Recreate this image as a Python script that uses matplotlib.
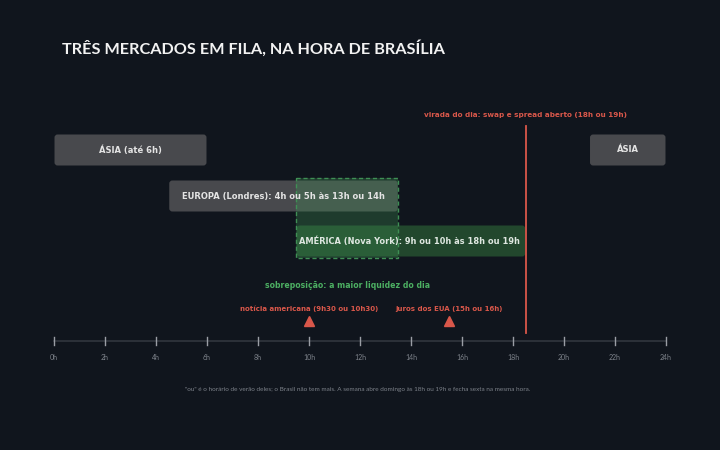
import matplotlib
matplotlib.use("Agg")
import matplotlib.pyplot as plt
from matplotlib.patches import FancyBboxPatch, Rectangle

# dados
session_labels=["ÁSIA (até 6h)","EUROPA (Londres): 4h ou 5h às 13h ou 14h","AMÉRICA (Nova York): 9h ou 10h às 18h ou 19h","ÁSIA"]
session_start=[0,4.5,9.5,21]
session_end=[6,13.5,18.5,24]
session_row=[0,1,2,0]
overlap=(9.5,13.5)
rollover_hour=18.5
rollover_label="virada do dia: swap e spread aberto (18h ou 19h)"
event_hours=[10,15.5]
event_labels=["notícia americana (9h30 ou 10h30)","juros dos EUA (15h ou 16h)"]
tick_hours=list(range(0,25,2))
tick_labels=[f"{h}h" for h in tick_hours]
title="TRÊS MERCADOS EM FILA, NA HORA DE BRASÍLIA"
overlap_label="sobreposição: a maior liquidez do dia"
footnote="\"ou\" é o horário de verão deles; o Brasil não tem mais. A semana abre domingo às 18h ou 19h e fecha sexta na mesma hora."

BG="#10151d"
GRAY="#48494d"
GREEN_BAR="#22472d"
GREEN_EDGE="#3f8f55"
GREEN_TXT="#4caf62"
RED="#d9574a"
AXIS="#2f343c"
TICK="#7d828a"

plt.rcParams['font.family']=['Lato','DejaVu Sans']
SMALL=['DejaVu Sans']

fig=plt.figure(figsize=(7.2,4.5),dpi=100)
fig.patch.set_facecolor(BG)
ax=fig.add_axes([0,0,1,1])
ax.set_facecolor(BG)
# 0h em x=54px, 24h em x=666px
ppx=25.5
ax.set_xlim(-54/ppx,(720-54)/ppx)
ax.set_ylim(450,0)
ax.axis("off")

row_y=[150,196,241]
bar_h=31

for lab,s,e,r in zip(session_labels,session_start,session_end,session_row):
	yc=row_y[r]
	is_am=lab.startswith("AMÉRICA")
	col=GREEN_BAR if is_am else GRAY
	pad=0.02
	box=FancyBboxPatch((s+pad,yc-bar_h/2),e-s-2*pad,bar_h,
		boxstyle="round,pad=0,rounding_size=0.12",mutation_aspect=25.5,
		facecolor=col,edgecolor="none",zorder=2)
	ax.add_patch(box)
	if is_am:
		ax.text(s+0.12,yc,lab,color="#dfe8e1",fontsize=5.95,fontweight="bold",family=SMALL,
			ha="left",va="center",zorder=5)
	else:
		ax.text((s+e)/2,yc,lab,color="#e4e4e4",fontsize=6.0,fontweight="bold",family=SMALL,
			ha="center",va="center",zorder=5)

# sobreposição
ov=Rectangle((overlap[0],178),overlap[1]-overlap[0],80,facecolor="#3f9454",alpha=0.3,
	edgecolor="none",zorder=3)
ax.add_patch(ov)
ov2=Rectangle((overlap[0],178),overlap[1]-overlap[0],80,facecolor="none",
	edgecolor=GREEN_EDGE,linestyle=(0,(3,2)),linewidth=1.0,zorder=4)
ax.add_patch(ov2)
ax.text(sum(overlap)/2,286,overlap_label,color=GREEN_TXT,fontsize=5.6,fontweight="bold",
	family=SMALL,ha="center",va="center")

# virada do dia
ax.plot([rollover_hour,rollover_hour],[126,333],color=RED,linewidth=1.3,zorder=4)
ax.text(rollover_hour,115,rollover_label,color=RED,fontsize=5.2,fontweight="bold",
	family=SMALL,ha="center",va="center")

# eventos
for h,lab in zip(event_hours,event_labels):
	ax.plot(h,321,marker="^",markersize=7,color=RED,linestyle="none",zorder=5)
	ax.text(h,309,lab,color=RED,fontsize=5.0,fontweight="bold",family=SMALL,
		ha="center",va="center")

# eixo
ax.plot([0,24],[341,341],color=AXIS,linewidth=1.3,zorder=1)
for h,lab in zip(tick_hours,tick_labels):
	ax.plot([h,h],[337,345],color="#9a9ea5",linewidth=1.0,zorder=2)
	ax.text(h,357,lab,color=TICK,fontsize=5,ha="center",va="center")

ax.text(62/ppx-54/ppx,48,title,color="#f2f2f2",fontsize=11.7,fontweight="bold",
	ha="left",va="center")
ax.text((358-54)/ppx,389,footnote,color=TICK,fontsize=4.6,ha="center",va="center")

fig.savefig("out.png",dpi=100,facecolor=BG)
